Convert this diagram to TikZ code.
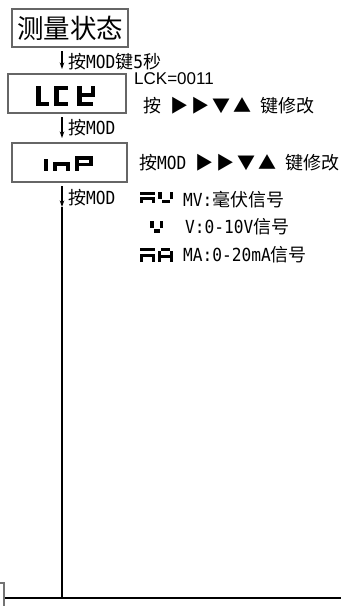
\documentclass[tikz,border=0pt]{standalone}
\usepackage{fontspec}
\newfontfamily\zh{Noto Sans CJK SC}
\newfontfamily\mo[FakeStretch=0.9]{DejaVu Sans Mono}
\newfontfamily\la{Liberation Sans}
\usetikzlibrary{arrows.meta}
\tikzset{
  box/.style={draw=black!60, line width=2pt, fill=white, inner sep=0pt},
  arr/.style={-{Stealth[length=6.5pt,width=4.5pt]}, line width=1.1pt},
  heavy/.style={line width=2pt},
  lab/.style={anchor=base west, inner sep=0pt, font=\fontsize{18}{20}\selectfont\zh},
  latlab/.style={anchor=base west, inner sep=0pt, font=\fontsize{17}{20}\selectfont\la},
  seg/.style={fill=black},
}
\begin{document}
\begin{tikzpicture}[x=1pt,y=-1pt]
\useasboundingbox (0,0) rectangle (341,606);
% boxes
\node[box, minimum width=116pt, minimum height=38pt] (title) at (70,28)
  {\zh\fontsize{26.5}{30}\selectfont 测量状态};
\node[box, minimum width=118pt, minimum height=39pt] (lck) at (67,93.5) {};
\node[box, minimum width=115pt, minimum height=39pt] (inp) at (69.5,162.5) {};
% LCK glyphs
\fill[seg] (36,86) rectangle (40.5,106);
\fill[seg] (40.5,102) rectangle (49,106);
\fill[seg] (54,86) rectangle (58.5,106);
\fill[seg] (58.5,86) rectangle (68,90);
\fill[seg] (58.5,102) rectangle (68,106);
\fill[seg] (77,86) rectangle (81.5,93);
\fill[seg] (90.5,86) rectangle (95,93);
\fill[seg] (77,93) rectangle (95,97);
\fill[seg] (77,97) rectangle (81.5,106);
\fill[seg] (81.5,102) rectangle (93,106);
% inP glyphs
\fill[seg] (43.5,159) rectangle (47.5,171);
\fill[seg] (53,162) rectangle (70,166);
\fill[seg] (53,166) rectangle (57,171);
\fill[seg] (66,166) rectangle (70,171);
\fill[seg] (75,156) rectangle (93,160);
\fill[seg] (75,160) rectangle (79,171);
\fill[seg] (89,160) rectangle (93,166);
\fill[seg] (79,163) rectangle (89,166);
% connectors
\coordinate (ax) at (62,0);
\coordinate (j) at (62,207);
\coordinate (corner) at (62,598);
\coordinate (hl) at (5,598);
\coordinate (hr) at (341,598);
\draw[arr] ([yshift=-3pt]title.south -| ax) -- ([yshift=4pt]lck.north -| ax);
\draw[arr] ([yshift=-3pt]lck.south -| ax) -- ([yshift=4pt]inp.north -| ax);
\draw[arr] ([yshift=-3pt]inp.south -| ax) -- (j);
\draw[heavy] (j) -- (corner);
\draw[heavy] (hl) -- (hr);
\draw[draw=black!55, line width=2pt] (0,583) -- (4,583) -- (4,606);
% labels
\node[lab] (t1) at (68,68) {按{\mo MOD}键{\mo 5}秒};
\node[latlab] (t2) at (134,84) {LCK=0011};
\node[lab] (t3) at (143,112) {按\hspace{9pt}▶\hspace{3pt}▶\hspace{3pt}▼\hspace{3pt}▲\hspace{9pt}键修改};
\node[lab] (t4) at (68,134) {按{\mo MOD}};
\node[lab] (t5) at (139,169) {按{\mo MOD}\hspace{9pt}▶\hspace{3pt}▶\hspace{3pt}▼\hspace{3pt}▲\hspace{9pt}键修改};
\node[lab] (t6) at (68,204) {按{\mo MOD}};
\node[lab] (t7) at (183,206) {{\mo MV:}毫伏信号};
\node[lab] (t8) at (185,233) {{\mo V:0-10V}信号};
\node[lab] (t9) at (183,261) {{\mo MA:0-20mA}信号};
% symbols
% MV
\fill[seg] (140,192) rectangle (155,194.5);
\fill[seg] (140,197) rectangle (143,203);
\fill[seg] (143,197) rectangle (152,199.5);
\fill[seg] (152,197) rectangle (155,203);
\fill[seg] (158,192) rectangle (161.5,198.5);
\fill[seg] (169.5,192) rectangle (173,198.5);
\fill[seg] (161.5,199.5) rectangle (169.5,203);
% V
\fill[seg] (150,221) rectangle (153.5,227.5);
\fill[seg] (159.5,221) rectangle (163,227.5);
\fill[seg] (153.5,229) rectangle (159.5,232.5);
% MA
\fill[seg] (140,248) rectangle (155,251);
\fill[seg] (140,254) rectangle (143,262);
\fill[seg] (143,254) rectangle (152,257);
\fill[seg] (152,254) rectangle (155,262);
\fill[seg] (161,248) rectangle (170,251);
\fill[seg] (158,251) rectangle (161,262);
\fill[seg] (170,251) rectangle (173,262);
\fill[seg] (161,254.5) rectangle (170,257.5);
\end{tikzpicture}
\end{document}
